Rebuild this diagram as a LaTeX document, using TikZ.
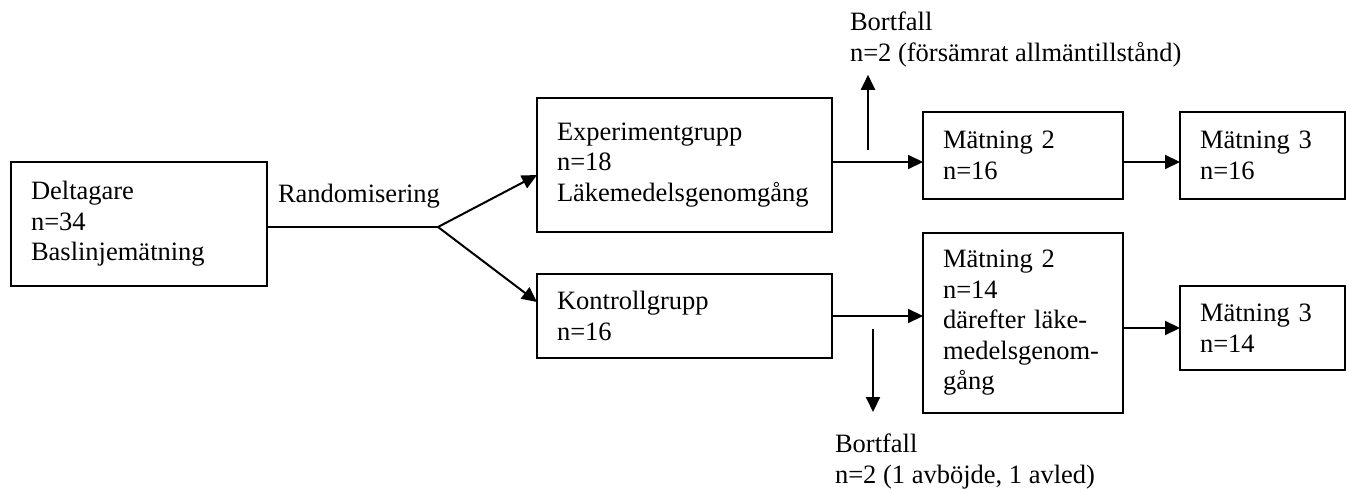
\documentclass[tikz,border=0pt]{standalone}
\usepackage{fontspec}
\setmainfont{Liberation Serif}
\usetikzlibrary{positioning}
\usetikzlibrary{arrows.meta}

\begin{document}
\begin{tikzpicture}[x=1pt,y=-1pt,>={Triangle[length=15pt,width=14pt]},line width=2pt,
	font=\fontsize{26.5}{30.5}\selectfont,
	box/.style={draw=black,anchor=north west,align=left,inner xsep=20pt,inner ysep=0pt,outer sep=0pt},
	lbl/.style={align=left,inner sep=0pt,outer sep=0pt}]
	\useasboundingbox (0,0) rectangle (1351,489);

	\node [box,text width=216pt,minimum height=124pt] at (11,162) (delt) {Deltagare\\n=34\\Baslinjemätning};
	\node [lbl,anchor=base west] at (278,203) (rand) {Randomisering};
	\coordinate (split) at (438,227);
	\draw (delt.east |- split) -- (split);

	\node [box,text width=255pt,minimum height=134pt] at (537,98) (exp) {Experimentgrupp\\n=18\\Läkemedelsgenomgång};
	\node [box,text width=255pt,minimum height=84pt] at (537,274) (ktrl) {Kontrollgrupp\\n=16};
	\draw [->] (split) -- ([yshift=-10pt]exp.west);
	\draw [->] (split) -- ([yshift=14pt]ktrl.west);

	\node [box,text width=160pt,minimum height=87pt] at (923,112) (m2a) {Mätning 2\\n=16};
	\node [box,text width=125pt,minimum height=87pt,anchor=west,right=57pt of m2a] (m3a) {Mätning 3\\n=16};
	\node [box,text width=160pt,minimum height=180pt] at (923,233) (m2b) {Mätning 2\\n=14\\därefter läke-\\medelsgenom-\\gång};
	\node [box,text width=125pt,minimum height=84pt] at (1180,286) (m3b) {Mätning 3\\n=14};

	\draw [->] ([yshift=3pt]exp.east) -- ([yshift=3pt]exp.east -| m2a.west);
	\draw [->] ([yshift=-6.5pt]m2a.east) -- ([yshift=-6.5pt]m3a.west);
	\draw [->] (ktrl.east) -- (ktrl.east -| m2b.west);
	\draw [->] (m2b.east |- m3b.west) -- (m3b.west);

	% dropouts
	\node [lbl,anchor=north west] at (850,12) (bortA) {Bortfall\\n=2 (försämrat allmäntillstånd)};
	\node [lbl,anchor=north west] at (835,434) (bortB) {Bortfall\\n=2 (1 avböjde, 1 avled)};
	\coordinate (upA) at (868,150);
	\coordinate (downB) at (873,329);
	\draw [->,shorten >=8pt] (upA) -- (upA |- bortA.south);
	\draw [->,shorten >=22pt] (downB) -- (downB |- bortB.north);
\end{tikzpicture}
\end{document}
